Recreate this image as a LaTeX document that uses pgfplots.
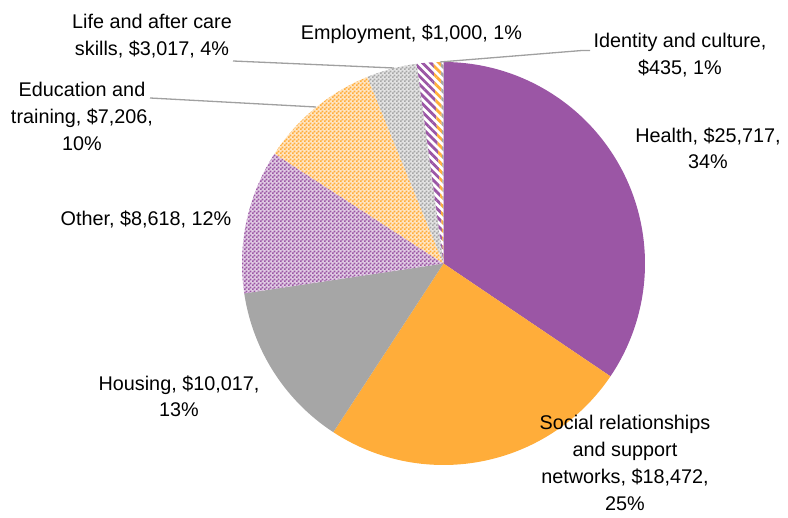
\documentclass[border=0pt]{standalone}
\usepackage{pgfplots}
\pgfplotsset{compat=1.18}
\usepackage{pgfplotstable}
\usetikzlibrary{patterns,patterns.meta}
\usepackage{fontspec}
\setmainfont{Liberation Sans}
\definecolor{cpurple}{HTML}{9B56A5}
\definecolor{corange}{HTML}{FFAD3A}
\definecolor{cgray}{HTML}{A6A6A6}
\definecolor{cline}{HTML}{A0A0A0}

\tikzdeclarepattern{
  name=smallcheck,
  type=uncolored,
  bottom left={(0pt,0pt)},
  top right={(2pt,2pt)},
  tile size={(2pt,2pt)},
  code={\pgfpathrectangle{\pgfpointorigin}{\pgfqpoint{1.05pt}{1.05pt}}%
        \pgfpathrectangle{\pgfqpoint{1pt}{1pt}}{\pgfqpoint{1.05pt}{1.05pt}}%
        \pgfusepath{fill}}
}

% values in dollars, in the order Excel draws them (clockwise from 12 o'clock)
\pgfplotstableread{
name value
Health 25717
Social 18472
Housing 10017
Other 8618
Education 7206
Life 3017
Employment 1000
Identity 435
Unlabelled 150
}\piedata

\def\total{0}
\pgfplotsforeachungrouped \i in {0,...,8}{%
  \pgfplotstablegetelem{\i}{value}\of\piedata
  \xdef\total{\fpeval{\total+\pgfplotsretval}}%
}
\def\cum{0}
\pgfplotsforeachungrouped \i in {0,...,8}{%
  \pgfplotstablegetelem{\i}{value}\of\piedata
  \xdef\hi{\fpeval{round(90-360*\cum/\total,4)}}%
  \xdef\cum{\fpeval{\cum+\pgfplotsretval}}%
  \xdef\lo{\fpeval{round(90-360*\cum/\total,4)}}%
  \edef\tmp{\noexpand\pgfplotsset{pieang\i/.style={domain=\lo:\hi}}}\tmp
}

\pgfplotsset{
  slice0/.style={fill=cpurple},
  slice1/.style={fill=corange},
  slice2/.style={fill=cgray},
  slice3/.style={preaction={fill=cpurple!30}, pattern=smallcheck, pattern color=cpurple},
  slice4/.style={preaction={fill=corange!30}, pattern=smallcheck, pattern color=corange},
  slice5/.style={preaction={fill=cgray!30}, pattern=smallcheck, pattern color=cgray},
  slice6/.style={pattern={Lines[angle=-45,distance=2.9pt,line width=1.4pt]}, pattern color=cpurple},
  slice7/.style={pattern={Lines[angle=-45,distance=2.9pt,line width=1.4pt]}, pattern color=corange},
  slice8/.style={pattern={Lines[angle=-45,distance=2.9pt,line width=1.4pt]}, pattern color=cgray},
}
\tikzset{lbl/.style={anchor=north, inner sep=0pt, align=center, text=black,
  font=\fontsize{9.9}{13.4}\selectfont}}

\begin{document}
\begin{tikzpicture}
\begin{axis}[hide axis, scale only axis, width=394pt, height=259pt,
  xmin=0, xmax=788, ymin=0, ymax=518, clip=false, samples=120]
\coordinate (bl) at (rel axis cs:0,0);
\coordinate (tr) at (rel axis cs:1,1);
\pgfplotsinvokeforeach{0,...,8}{
  \addplot[draw=none, slice#1, pieang#1, variable=\t]
    ({443.5+201.5*cos(\t)},{254.5+201.5*sin(\t)}) -- (axis cs:443.5,254.5) -- cycle;
}
% leader lines
\addplot[cline, line width=0.65pt] coordinates {(233,457) (394,450)};
\addplot[cline, line width=0.65pt] coordinates {(150,420) (316,411)};
\addplot[cline, line width=0.65pt] coordinates {(590,467.5) (582,467.5) (440,456)};
% labels
\node[lbl] at (axis cs:152,504) {Life and after care\\skills, \$3,017, 4\%};
\node[lbl] at (axis cs:411.5,494) {Employment, \$1,000, 1\%};
\node[lbl] at (axis cs:680,485) {Identity and culture,\\\$435, 1\%};
\node[lbl] at (axis cs:708,391) {Health, \$25,717,\\34\%};
\node[lbl] at (axis cs:82,436) {Education and\\training, \$7,206,\\10\%};
\node[lbl] at (axis cs:146,308) {Other, \$8,618, 12\%};
\node[lbl] at (axis cs:179,143) {Housing, \$10,017,\\13\%};
\node[lbl] at (axis cs:625,103) {Social relationships\\and support\\networks, \$18,472,\\25\%};
\end{axis}
\pgfresetboundingbox
\useasboundingbox (bl) rectangle (tr);
\end{tikzpicture}
\end{document}
